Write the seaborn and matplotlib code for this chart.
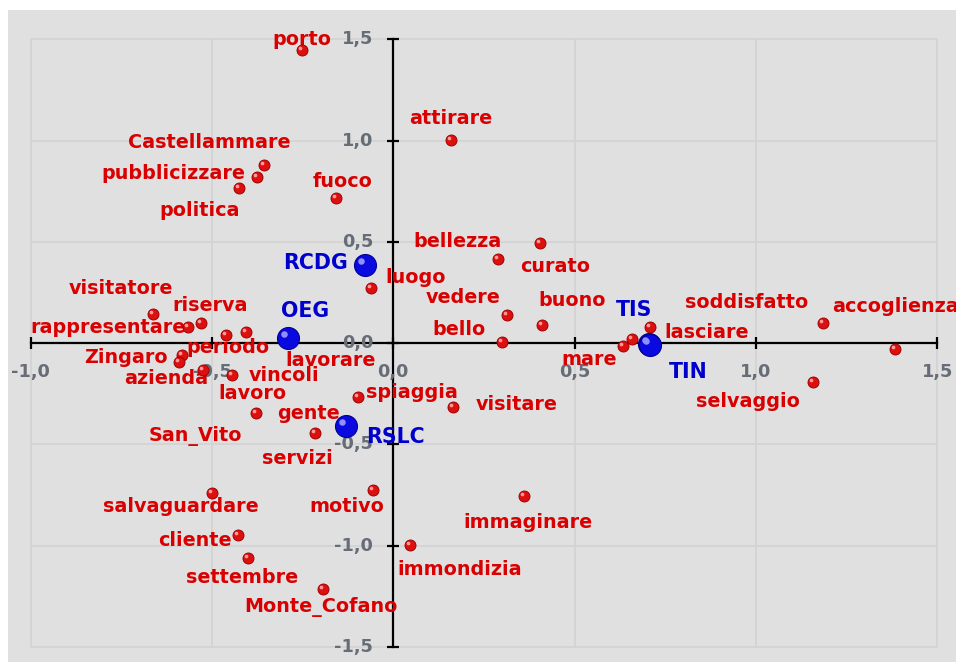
import matplotlib
matplotlib.use('Agg')
import matplotlib.pyplot as plt
import matplotlib.transforms as mtransforms
import pandas as pd
import seaborn as sns

# words (red points) - coordinates on factor 1 / factor 2
words = ['porto', 'attirare', 'Castellammare', 'pubblicizzare', 'politica', 'fuoco',
         'bellezza', 'curato', 'luogo', 'vedere', 'buono', 'bello',
         'lasciare', 'mare', 'servizi', 'soddisfatto', 'accoglienza', 'selvaggio',
         'visitatore', 'rappresentare', 'riserva', 'periodo', 'lavorare', 'Zingaro',
         'San_Vito', 'azienda', 'vincoli', 'lavoro', 'gente', 'spiaggia', 'visitare',
         'salvaguardare', 'motivo', 'immaginare', 'cliente', 'immondizia',
         'settembre', 'Monte_Cofano']
word_x = [-0.252, 0.158, -0.356, -0.376, -0.426, -0.158,
          0.290, 0.405, -0.062, 0.314, 0.410, 0.300,
          0.708, 0.633, 0.658, 1.185, 1.383, 1.158,
          -0.662, -0.566, -0.531, -0.461, -0.406, -0.583,
          -0.591, -0.525, -0.445, -0.379, -0.216, -0.097, 0.165,
          -0.499, -0.056, 0.361, -0.428, 0.046,
          -0.401, -0.193]
word_y = [1.447, 1.003, 0.880, 0.820, 0.766, 0.717,
          0.415, 0.494, 0.272, 0.139, 0.090, 0.005,
          0.080, -0.014, 0.020, 0.100, -0.029, -0.192,
          0.143, 0.079, 0.099, 0.040, 0.055, -0.059,
          -0.093, -0.133, -0.157, -0.345, -0.444, -0.266, -0.316,
          -0.741, -0.726, -0.756, -0.948, -0.998,
          -1.062, -1.214]

# groups (blue points)
groups = ['RCDG', 'OEG', 'RSLC', 'TIS', 'TIN']
group_x = [-0.078, -0.290, -0.130, 0.705, 0.708]
group_y = [0.386, 0.025, -0.409, -0.005, -0.009]

ticks_y = [-1.5, -1.0, -0.5, 0.0, 0.5, 1.0, 1.5]
ticks_x = [-1.0, -0.5, 0.0, 0.5, 1.0, 1.5]

# label offsets (pixels) from the point
word_offsets = {
    'porto': (0, 11), 'attirare': (0, 21), 'Castellammare': (-55, 22),
    'pubblicizzare': (-84, 4), 'politica': (-39, -23), 'fuoco': (7, 16),
    'bellezza': (-41, 18), 'curato': (15, -23), 'luogo': (45, 11),
    'vedere': (-44, 17), 'buono': (30, 24), 'bello': (-43, 13),
    'lasciare': (57, -6), 'mare': (-34, -14), 'servizi': (-335, -119),
    'soddisfatto': (-76, 20), 'accoglienza': (1, 42), 'selvaggio': (-65, -20),
    'visitatore': (-32, 26), 'rappresentare': (-80, 0), 'riserva': (9, 18),
    'periodo': (2, -13), 'lavorare': (84, -29), 'Zingaro': (-56, -2),
    'San_Vito': (16, -74), 'azienda': (-37, -8), 'vincoli': (52, -1),
    'lavoro': (-3, 19), 'gente': (-7, 20), 'spiaggia': (54, 4),
    'visitare': (64, 3), 'salvaguardare': (-32, -13), 'motivo': (-26, -16),
    'immaginare': (4, -26), 'cliente': (-43, -5), 'immondizia': (50, -24),
    'settembre': (-6, -19), 'Monte_Cofano': (-2, -18),
}
group_offsets = {'RCDG': (-50, 2), 'OEG': (17, 27), 'RSLC': (49, -11),
                 'TIS': (-15, 34), 'TIN': (38, -27)}

red = '#d80000'
blue = '#0000cc'

df_words = pd.DataFrame({'x': word_x, 'y': word_y, 'word': words})
df_groups = pd.DataFrame({'x': group_x, 'y': group_y, 'group': groups})

fig = plt.figure(figsize=(9.56, 6.62), dpi=100, facecolor='white')
ax = fig.add_axes([8 / 956, 0, 948 / 956, 652 / 662])
ax.set_facecolor('#e0e0e0')
ax.set_xlim(-1.0625, 1.5517)
ax.set_ylim(-1.5748, 1.6449)
for s in ax.spines.values():
    s.set_visible(False)

# grid inside the box
ax.vlines(ticks_x, -1.5, 1.5, color='#d3d3d3', lw=1.3, zorder=1)
ax.hlines(ticks_y, -1.0, 1.5, color='#d3d3d3', lw=1.3, zorder=1)

# axes through the origin
ax.plot([-1.0, 1.5], [0, 0], color='black', lw=1.6, zorder=2)
ax.plot([0, 0], [-1.5, 1.5], color='black', lw=1.6, zorder=2)
ax.plot(ticks_x, [0] * len(ticks_x), ls='none', marker='|', ms=9, mew=1.6, color='black', zorder=2)
ax.plot([0] * len(ticks_y), ticks_y, ls='none', marker='_', ms=9, mew=1.6, color='black', zorder=2)

tick_font = dict(fontsize=12.8, fontweight='bold', color='#666d76', zorder=3)
for t in ticks_y:
    ax.annotate(f'{t:.1f}'.replace('.', ','), (0, t), xytext=(-20, 0), textcoords='offset pixels',
                ha='right', va='center', **tick_font)
for t in ticks_x:
    ax.annotate(f'{t:.1f}'.replace('.', ','), (t, 0), xytext=(0, -29), textcoords='offset pixels',
                ha='center', va='center', **tick_font)

# labels
for w, x, y in zip(words, word_x, word_y):
    ax.annotate(w, (x, y), xytext=word_offsets[w], textcoords='offset pixels',
                ha='center', va='center', fontsize=13.8, fontweight='bold', color=red, zorder=4)
for g, x, y in zip(groups, group_x, group_y):
    ax.annotate(g, (x, y), xytext=group_offsets[g], textcoords='offset pixels',
                ha='center', va='center', fontsize=14.8, fontweight='bold', color=blue, zorder=5)

# points as small spheres
shine = ax.transData + mtransforms.ScaledTranslation(-2 / 100, 2 / 100, fig.dpi_scale_trans)
sns.scatterplot(data=df_words, x='x', y='y', color='#dd1010', s=62, edgecolor='#a00000',
                linewidth=0.7, legend=False, ax=ax, zorder=6)
ax.scatter(word_x, word_y, s=7, color='#ff9a9a', lw=0, transform=shine, zorder=6)
sns.scatterplot(data=df_groups, x='x', y='y', color='#0a0ae0', s=250, edgecolor='#000090',
                linewidth=0.8, legend=False, ax=ax, zorder=7)
shine_b = ax.transData + mtransforms.ScaledTranslation(-4 / 100, 4 / 100, fig.dpi_scale_trans)
ax.scatter(group_x, group_y, s=22, color='#8f8fff', lw=0, transform=shine_b, zorder=7)

ax.set_xticks([])
ax.set_yticks([])
ax.set_xlabel('')
ax.set_ylabel('')

fig.savefig('out.png', dpi=100, facecolor='white')
